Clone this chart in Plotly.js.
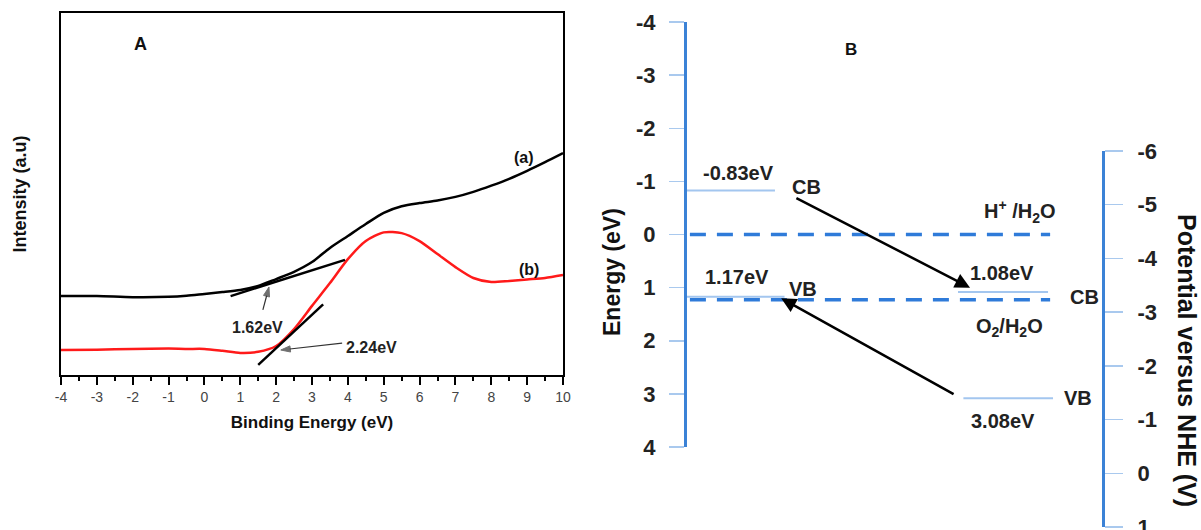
<!DOCTYPE html>
<html>
<head>
<meta charset="utf-8">
<script src="https://cdn.plot.ly/plotly-3.0.1.min.js"></script>
<style>html,body{margin:0;padding:0;background:#fff;}#chart{width:1201px;height:530px;}</style>
</head>
<body>
<div id="chart"></div>
<script>
// ---------- Panel A data ----------
const bindingEnergy = [-4,-3,-2,-1,-0.5,0,0.5,1,1.5,2,2.5,3,3.5,4,4.5,5,5.5,6,6.5,7,7.5,8,8.5,9,9.5,10];
const intensityA = [21.8,21.8,21.5,21.6,21.9,22.4,22.9,23.5,24.6,26.5,28.5,31.2,35.1,38.4,41.7,44.8,46.6,47.5,48.2,49.2,50.6,52.3,54.2,56.4,58.8,61.3];
const intensityB = [6.9,7.0,7.2,7.3,7.2,7.2,6.7,6.1,6.4,8.0,12.7,19.1,25.4,32.0,37.0,39.4,39.2,37.0,33.4,29.8,26.8,25.7,26.0,26.4,26.8,27.6];
const tangentAx = [0.73, 3.92];
const tangentAy = [21.8, 31.8];
const tangentBx = [1.50, 3.31];
const tangentBy = [2.8, 19.5];
const edgeLabels = ['1.62eV', '2.24eV'];
const xTicksA = [-4,-3,-2,-1,0,1,2,3,4,5,6,7,8,9,10];

// ---------- Panel B data ----------
const energyTicks = [-4,-3,-2,-1,0,1,2,3,4];
const nheTicks = [-6,-5,-4,-3,-2,-1,0,1];
const levelNames = ['CB','VB','CB','VB'];
const levelEnergy = [-0.83, 1.17, 1.08, 3.08];
const levelLabels = ['-0.83eV','1.17eV','1.08eV','3.08eV'];
const levelX0 = [0, 0, 65.3, 66.6];
const levelX1 = [21.2, 23.5, 87.0, 88.2];
const redoxNames = ['H<sup>+</sup> /H<sub>2</sub>O', 'O<sub>2</sub>/H<sub>2</sub>O'];
const redoxEnergy = [0, 1.23];
const redoxX = [0.7, 87.5];

const FONT = 'Liberation Sans, Arial, Helvetica, sans-serif';
const W = 1201, H = 530;
const fx = p => p / W;
const fy = p => 1 - p / H;

const traces = [];
// Panel A curves
traces.push({x: bindingEnergy, y: intensityA, xaxis:'x', yaxis:'y', mode:'lines',
  line:{color:'#000', width:2.5, shape:'spline', smoothing:0.8}, hoverinfo:'skip'});
traces.push({x: bindingEnergy, y: intensityB, xaxis:'x', yaxis:'y', mode:'lines',
  line:{color:'#ff1a1a', width:2.5, shape:'spline', smoothing:0.7}, hoverinfo:'skip'});
traces.push({x: tangentAx, y: tangentAy, xaxis:'x', yaxis:'y', mode:'lines',
  line:{color:'#000', width:2.5}, hoverinfo:'skip'});
traces.push({x: tangentBx, y: tangentBy, xaxis:'x', yaxis:'y', mode:'lines',
  line:{color:'#000', width:2.5}, hoverinfo:'skip'});

function arrowTrace(xs, ys, xa, ya, color, width, head) {
  return {x: xs, y: ys, xaxis: xa, yaxis: ya, mode: 'lines+markers', hoverinfo: 'skip',
    line: {color: color, width: width},
    marker: {symbol: 'arrow', angleref: 'previous', size: [0, head], color: color,
             line: {width: 1, color: color}}};
}
// Panel A pointer arrows (tail -> tip)
traces.push(arrowTrace([1.63, 1.80], [18.0, 24.3], 'x', 'y', '#333', 1.2, 10));
traces.push(arrowTrace([3.84, 2.13], [8.8, 6.9], 'x', 'y', '#333', 1.2, 10));

// Panel B levels
for (let i = 0; i < levelEnergy.length; i++) {
  traces.push({x:[levelX0[i], levelX1[i]], y:[levelEnergy[i], levelEnergy[i]], xaxis:'x2', yaxis:'y2',
    mode:'lines', line:{color:'#a3c6ef', width:2}, hoverinfo:'skip'});
}
for (let i = 0; i < redoxEnergy.length; i++) {
  traces.push({x: redoxX, y:[redoxEnergy[i], redoxEnergy[i]], xaxis:'x2', yaxis:'y2',
    mode:'lines', line:{color:'#2f7bd9', width:3.5, dash:'16px,11px'}, hoverinfo:'skip'});
}
// dummy trace for the NHE axis
traces.push({x:[], y:[], xaxis:'x3', yaxis:'y3', mode:'lines', hoverinfo:'skip'});

const ann = [];
const C = {xanchor:'center', yanchor:'middle', showarrow:false};
ann.push(Object.assign({text:'<b>A</b>', xref:'paper', yref:'paper', x:fx(140), y:fy(44),
  font:{family:FONT, size:18, color:'#111'}}, C));
ann.push(Object.assign({text:'<b>(a)</b>', xref:'x', yref:'y', x:8.91, y:(375-157)/3.62,
  font:{family:FONT, size:16, color:'#111'}}, C));
ann.push(Object.assign({text:'<b>(b)</b>', xref:'x', yref:'y', x:9.05, y:(375-269)/3.62,
  font:{family:FONT, size:16, color:'#111'}}, C));
ann.push(Object.assign({text:'<b>'+edgeLabels[0]+'</b>', xref:'x', yref:'y', x:1.47, y:13.0,
  font:{family:FONT, size:16, color:'#222'}}, C));
ann.push(Object.assign({text:'<b>'+edgeLabels[1]+'</b>', xref:'x', yref:'y', x:4.65, y:7.7,
  font:{family:FONT, size:16, color:'#222'}}, C));

// charge transfer arrows (tail -> tip), drawn as annotation arrows
ann.push({text:'', xref:'x2', yref:'y2', axref:'x2', ayref:'y2',
  x:68.2, y:levelEnergy[2]-0.08, ax:26, ay:levelEnergy[0]+0.13,
  showarrow:true, arrowhead:2, arrowsize:1.2, arrowwidth:2.5, arrowcolor:'#000'});
ann.push({text:'', xref:'x2', yref:'y2', axref:'x2', ayref:'y2',
  x:22.7, y:levelEnergy[1]+0.03, ax:64.6, ay:levelEnergy[3]-0.06,
  showarrow:true, arrowhead:2, arrowsize:1.2, arrowwidth:2.5, arrowcolor:'#000'});

// Panel B labels
const lblFont = {family:FONT, size:20, color:'#222'};
ann.push(Object.assign({text:'<b>B</b>', xref:'paper', yref:'paper', x:fx(851), y:fy(50),
  font:{family:FONT, size:17, color:'#111'}}, C));
const labelX = [12.3, 12.0, 75.9, 76.1];
const labelShift = [17, 20, 19, -23];
const nameX = [28.9, 28.0, 95.9, 94.2];
const nameShift = [3, 8, -5, 0];
for (let i = 0; i < levelEnergy.length; i++) {
  ann.push(Object.assign({text:'<b>'+levelLabels[i]+'</b>', xref:'x2', yref:'y2', x:labelX[i], y:levelEnergy[i],
    yshift:labelShift[i], font:lblFont}, C));
  ann.push(Object.assign({text:'<b>'+levelNames[i]+'</b>', xref:'x2', yref:'y2', x:nameX[i], y:levelEnergy[i],
    yshift:nameShift[i], font:lblFont}, C));
}
const redoxLabelX = [80.2, 77.8];
const redoxShift = [23, -28];
for (let i = 0; i < redoxEnergy.length; i++) {
  ann.push(Object.assign({text:'<b>'+redoxNames[i]+'</b>', xref:'x2', yref:'y2', x:redoxLabelX[i], y:redoxEnergy[i],
    yshift:redoxShift[i], font:lblFont}, C));
}
ann.push(Object.assign({text:'<b>Energy (eV)</b>', xref:'paper', yref:'paper', x:fx(612), y:fy(272),
  textangle:-90, font:{family:FONT, size:23, color:'#111'}}, C));
ann.push(Object.assign({text:'<b>Potential versus NHE (V)</b>', xref:'paper', yref:'paper', x:fx(1187), y:fy(360),
  textangle:90, font:{family:FONT, size:25, color:'#111'}}, C));

const xBdom = [fx(687), fx(1102)];
const layout = {
  width: W, height: H,
  margin:{l:0, r:0, t:0, b:0},
  paper_bgcolor:'#fff', plot_bgcolor:'rgba(0,0,0,0)',
  showlegend:false,
  font:{family:FONT},
  xaxis:{domain:[fx(61), fx(563)], range:[-4,10], anchor:'y',
    showline:true, linecolor:'#000', linewidth:2, mirror:true,
    showgrid:false, zeroline:false,
    tickmode:'array', tickvals:xTicksA, ticktext:xTicksA.map(String),
    ticks:'outside', ticklen:8, tickwidth:2, tickcolor:'#000',
    minor:{dtick:0.5, ticks:'outside', ticklen:4, tickwidth:2, tickcolor:'#000', showgrid:false},
    tickfont:{family:FONT, size:14, color:'#444'},
    title:{text:'<b>Binding Energy (eV)</b>', font:{family:FONT, size:17, color:'#111'}, standoff:12}},
  yaxis:{domain:[fy(375), fy(13)], range:[0,100], anchor:'x',
    showline:true, linecolor:'#000', linewidth:2, mirror:true,
    showgrid:false, zeroline:false, showticklabels:false, ticks:'',
    title:{text:'<b>Intensity (a.u)</b>', font:{family:FONT, size:18, color:'#111'}, standoff:28}},
  xaxis2:{domain:xBdom, range:[0,100], anchor:'y2', visible:false, fixedrange:true},
  yaxis2:{domain:[fy(447), fy(22)], range:[4,-4], anchor:'x2', side:'left',
    showline:true, linecolor:'#3b82d6', linewidth:3,
    showgrid:false, zeroline:false,
    tickmode:'array', tickvals:energyTicks, ticktext:energyTicks.map(String),
    ticks:'outside', ticklen:15, tickwidth:1.5, tickcolor:'#a9c9ee',
    ticklabelstandoff:9, ticklabeloverflow:'allow',
    tickfont:{family:FONT, size:22, color:'#222', weight:'bold'}},
  xaxis3:{domain:xBdom, range:[0,100], anchor:'y3', visible:false, fixedrange:true},
  yaxis3:{domain:[fy(527), fy(151)], range:[1,-6], anchor:'x3', side:'right',
    showline:true, linecolor:'#3b82d6', linewidth:3,
    showgrid:false, zeroline:false,
    tickmode:'array', tickvals:nheTicks, ticktext:nheTicks.map(String),
    ticks:'outside', ticklen:18, tickwidth:1.5, tickcolor:'#a9c9ee',
    ticklabelstandoff:10, ticklabeloverflow:'allow',
    tickfont:{family:FONT, size:22, color:'#222', weight:'bold'}},
  annotations: ann
};

Plotly.newPlot('chart', traces, layout, {staticPlot:true, displayModeBar:false});
</script>
</body>
</html>
